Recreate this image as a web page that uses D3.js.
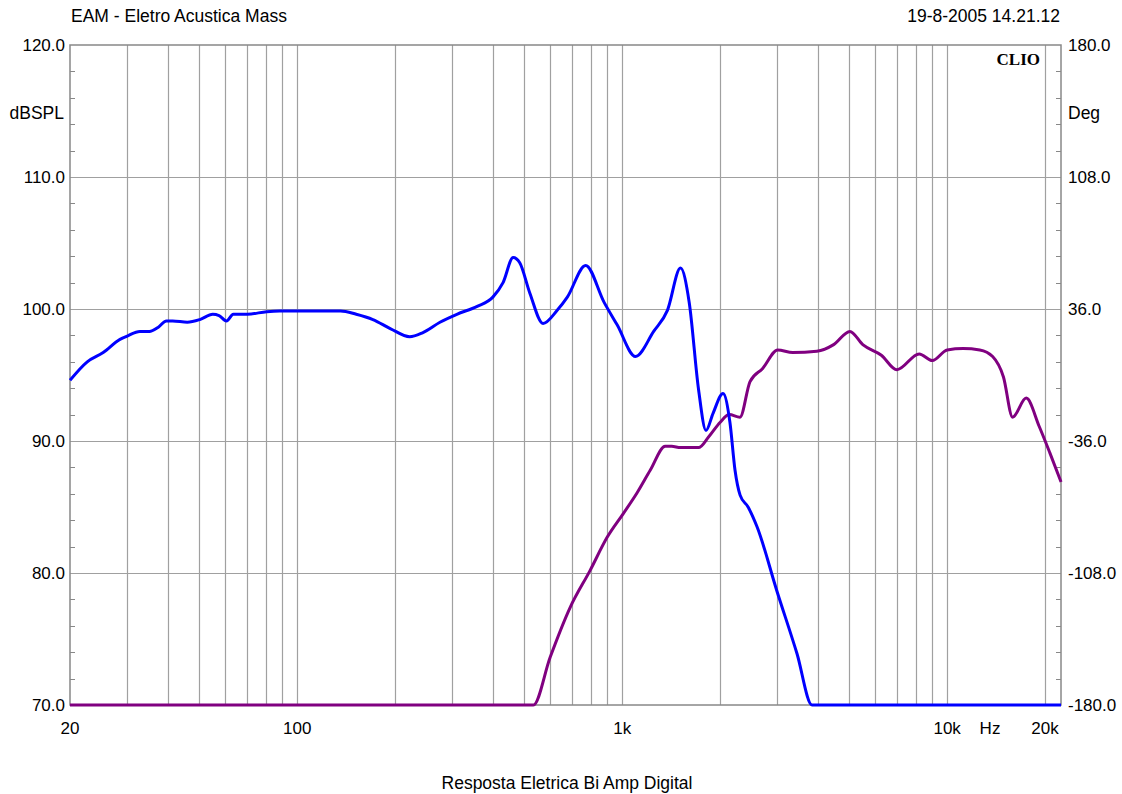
<!DOCTYPE html>
<html>
<head>
<meta charset="utf-8">
<script src="https://d3js.org/d3.v7.min.js"></script>
<style>
  body { margin: 0; background: #fff; }
  svg { display: block; font-family: "Liberation Sans", Arial, sans-serif; }
</style>
</head>
<body>
<svg></svg>
<script>
// canvas size
const width = 1122;
const height = 794;
const plot = { left: 70, right: 1061, top: 45, bottom: 705 };

// data
const blueFreq = [20, 22.6, 25.3, 28.5, 30, 32.8, 35.1, 37.3, 39.6, 41.4, 45.9, 50.2, 55, 57.5, 60.6, 63.6, 70.3, 80.6, 88.4, 107,
  136, 152, 171, 194, 222, 243, 275, 310, 358, 400, 430, 462, 484, 520, 571, 631, 678, 772, 880, 965,
  1099, 1250, 1378, 1512, 1608, 1718, 1811, 1904, 2043, 2146, 2224, 2306, 2440, 2600, 2996, 3450, 3838, 22400];
const blueDb = [94.6, 96.0, 96.7, 97.7, 97.95, 98.3, 98.3, 98.6, 99.1, 99.1, 99.0, 99.2, 99.6, 99.5, 99.1, 99.6, 99.6, 99.8, 99.85, 99.85,
  99.85, 99.6, 99.2, 98.5, 97.9, 98.2, 99.0, 99.6, 100.2, 100.9, 102.0, 103.9, 103.5, 101.2, 98.9, 99.9, 100.9, 103.3, 100.5, 98.8,
  96.4, 98.3, 99.9, 103.1, 100.5, 93.9, 90.8, 92.1, 93.6, 91.4, 87.8, 85.9, 85.0, 83.5, 78.6, 73.9, 70.0, 70.0];

const purpleFreq = [20, 533, 600, 692, 797, 899, 1008, 1113, 1221, 1357, 1420, 1512, 1718, 1844, 2000, 2134, 2304, 2474, 2706, 3010,
  3348, 3972, 4474, 5020, 5500, 6274, 7000, 8202, 9000, 10000, 11200, 12600, 13800, 14900, 15900, 17500, 19200, 20700, 22400];
const purpleDb = [70, 70, 73.6, 77.4, 80.2, 82.7, 84.5, 86.1, 87.8, 89.6, 89.6, 89.5, 89.5, 90.3, 91.4, 92.0, 91.8, 94.5, 95.5, 96.9,
  96.7, 96.8, 97.3, 98.3, 97.3, 96.5, 95.4, 96.6, 96.1, 96.9, 97.0, 96.9, 96.4, 94.85, 91.8, 93.25, 91.1, 89.1, 86.9];

// axis labels
const dbTicks = [70, 80, 90, 100, 110, 120];
const degTicks = [-180, -108, -36, 36, 108, 180];
const freqLabels = [[20, "20"], [100, "100"], [1000, "1k"], [10000, "10k"], [20000, "20k"]];

const svg = d3.select("svg")
  .attr("width", width)
  .attr("height", height);

// scales
const x = d3.scaleLog().domain([20, 22400]).range([plot.left, plot.right]);
const y = d3.scaleLinear().domain([70, 120]).range([plot.bottom, plot.top]);
const yDeg = d3.scaleLinear().domain([-180, 180]).range([plot.bottom, plot.top]);

const gridColor = "#a0a0a0";
const fmt = d => d3.format(".1f")(d).replace("\u2212", "-");

// vertical log grid
const gridFreqs = [];
[10, 100, 1000, 10000].forEach(dec => {
  for (let m = 1; m <= 9; m++) {
    const f = dec * m;
    if (f > 20 && f <= 20000) gridFreqs.push(f);
  }
});

svg.append("g")
  .selectAll("line")
  .data(gridFreqs)
  .join("line")
  .attr("x1", d => Math.round(x(d)) + 0.5)
  .attr("x2", d => Math.round(x(d)) + 0.5)
  .attr("y1", plot.top)
  .attr("y2", plot.bottom)
  .attr("stroke", gridColor)
  .attr("stroke-width", 1.2);

// horizontal grid
svg.append("g")
  .selectAll("line")
  .data(dbTicks.slice(1, -1))
  .join("line")
  .attr("x1", plot.left)
  .attr("x2", plot.right)
  .attr("y1", d => Math.round(y(d)) + 0.5)
  .attr("y2", d => Math.round(y(d)) + 0.5)
  .attr("stroke", gridColor)
  .attr("stroke-width", 1.2);

// minor ticks every 2 dB on both sides
const minor = d3.range(72, 120, 2).filter(d => d % 10 !== 0);
svg.append("g")
  .selectAll("line")
  .data(minor)
  .join("line")
  .attr("x1", plot.left)
  .attr("x2", plot.left + 5)
  .attr("y1", d => Math.round(y(d)) + 0.5)
  .attr("y2", d => Math.round(y(d)) + 0.5)
  .attr("stroke", "#888");
svg.append("g")
  .selectAll("line")
  .data(minor)
  .join("line")
  .attr("x1", plot.right - 5)
  .attr("x2", plot.right)
  .attr("y1", d => Math.round(y(d)) + 0.5)
  .attr("y2", d => Math.round(y(d)) + 0.5)
  .attr("stroke", "#888");

// frame
svg.append("rect")
  .attr("x", plot.left)
  .attr("y", plot.top)
  .attr("width", plot.right - plot.left)
  .attr("height", plot.bottom - plot.top)
  .attr("fill", "none")
  .attr("stroke", "#888")
  .attr("stroke-width", 1.5);

// curves
const line = d3.line()
  .x(d => x(d[0]))
  .y(d => y(d[1]))
  .curve(d3.curveMonotoneX);

svg.append("path")
  .datum(d3.zip(purpleFreq, purpleDb))
  .attr("d", line)
  .attr("fill", "none")
  .attr("stroke", "#800080")
  .attr("stroke-width", 3)
  .attr("stroke-linejoin", "round");

svg.append("path")
  .datum(d3.zip(blueFreq, blueDb))
  .attr("d", line)
  .attr("fill", "none")
  .attr("stroke", "#0000ff")
  .attr("stroke-width", 3)
  .attr("stroke-linejoin", "round");

// left tick labels
svg.append("g")
  .selectAll("text")
  .data(dbTicks)
  .join("text")
  .attr("x", 65)
  .attr("y", d => y(d))
  .attr("dy", "0.36em")
  .attr("text-anchor", "end")
  .attr("font-size", 17)
  .text(fmt);

// right tick labels
svg.append("g")
  .selectAll("text")
  .data(degTicks)
  .join("text")
  .attr("x", 1068)
  .attr("y", d => yDeg(d))
  .attr("dy", "0.36em")
  .attr("font-size", 17)
  .text(fmt);

// frequency labels
svg.append("g")
  .selectAll("text")
  .data(freqLabels)
  .join("text")
  .attr("x", d => x(d[0]))
  .attr("y", 734)
  .attr("text-anchor", "middle")
  .attr("font-size", 17)
  .text(d => d[1]);

svg.append("text").attr("x", 990).attr("y", 734).attr("text-anchor", "middle").attr("font-size", 17).text("Hz");
svg.append("text").attr("x", 64).attr("y", 119).attr("text-anchor", "end").attr("font-size", 17.5).text("dBSPL");
svg.append("text").attr("x", 1068).attr("y", 119).attr("font-size", 17.5).text("Deg");

// header / footer
svg.append("text").attr("x", 71).attr("y", 22).attr("font-size", 17.5).text("EAM - Eletro Acustica Mass");
svg.append("text").attr("x", 1060).attr("y", 22).attr("text-anchor", "end").attr("font-size", 17.5).text("19-8-2005 14.21.12");
svg.append("text").attr("x", 567).attr("y", 789).attr("text-anchor", "middle").attr("font-size", 17.5).text("Resposta Eletrica Bi Amp Digital");

svg.append("text")
  .attr("x", 1040)
  .attr("y", 65)
  .attr("text-anchor", "end")
  .attr("font-family", "'Liberation Serif', 'DejaVu Serif', serif")
  .attr("font-weight", "bold")
  .attr("font-size", 17)
  .text("CLIO");
</script>
</body>
</html>
